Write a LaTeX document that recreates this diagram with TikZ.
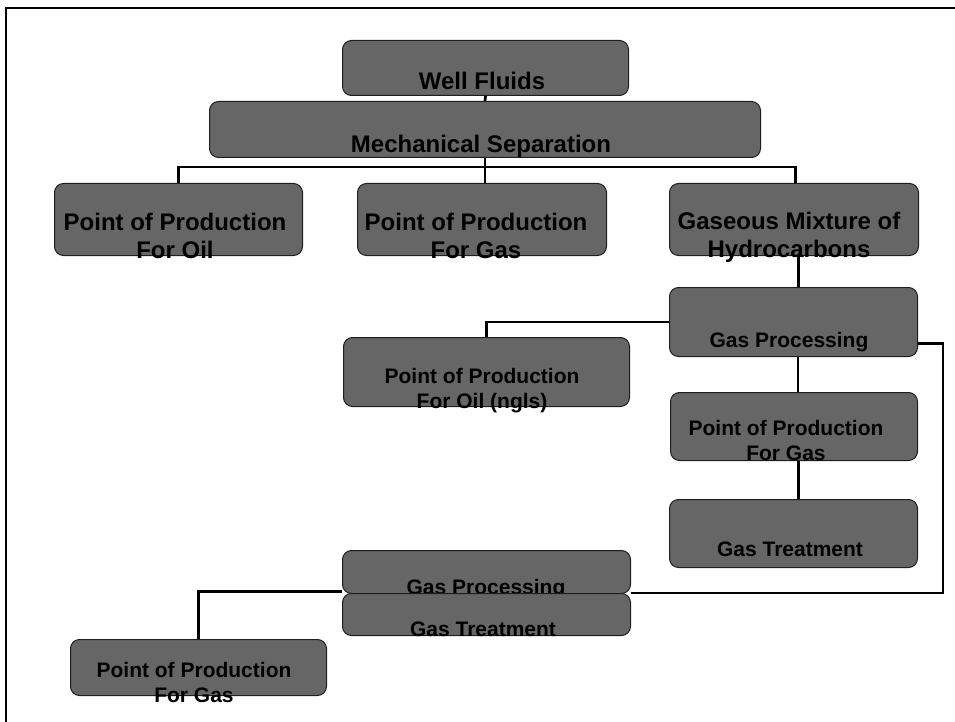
\documentclass[tikz,border=0pt]{standalone}
\usepackage{fontspec}
\setmainfont{Liberation Sans}
\usetikzlibrary{calc}
\definecolor{boxfill}{HTML}{666666}
\definecolor{boxline}{HTML}{1E1E1E}
\begin{document}
\begin{tikzpicture}[x=1pt,y=-1pt,
  box/.style={draw=boxline, line width=1pt, fill=boxfill, rounded corners=9pt, inner sep=0pt, anchor=north west},
  big/.style={font=\bfseries\fontsize{24}{28}\selectfont, align=center, inner sep=0pt, anchor=base},
  small/.style={font=\bfseries\fontsize{21}{25}\selectfont, align=center, inner sep=0pt, anchor=base},
  conn/.style={draw=black, line width=2.7pt}]
\useasboundingbox (0,0) rectangle (955,722);
% frame
\draw[line width=2.5pt] (955,8) -- (6,8) -- (6,722);

% boxes
\node[box, minimum width=286, minimum height=55] (wf) at (342,40) {};
\node[box, minimum width=551, minimum height=56] (ms) at (209,101) {};
\node[box, minimum width=248, minimum height=72] (poil) at (54,183) {};
\node[box, minimum width=249, minimum height=72] (pgas) at (357,183) {};
\node[box, minimum width=249, minimum height=72] (gmix) at (669,183) {};
\node[box, minimum width=248, minimum height=69] (gp1) at (669,287) {};
\node[box, minimum width=286, minimum height=69] (ngl) at (343,337) {};
\node[box, minimum width=247, minimum height=68] (pg2) at (670,392) {};
\node[box, minimum width=248, minimum height=68] (gt1) at (669,499) {};
\node[box, minimum width=288, minimum height=43] (gp2) at (342,550) {};
\node[small] (gp2t) at (486,594) {Gas Processing};
\node[box, minimum width=288, minimum height=42] (gt2) at (342,593) {};
\node[box, minimum width=256, minimum height=56] (pg3) at (70,639) {};

% connectors
\draw[conn] (wf.south) -- (ms.north);
\draw[conn] (ms.south) -- (ms.south |- pgas.north);
\draw[conn] (ms.south) -- ++(0,9) -| (poil.north);
\draw[conn] (ms.south) -- ++(0,9) -| ([xshift=1.5pt]gmix.north);
\draw[conn] ([xshift=4.5pt]gmix.south) -- ([xshift=4.5pt]gmix.south |- gp1.north);
\draw[conn] (gp1.west) -| (ngl.north);
\draw[conn] ([xshift=4.5pt]gp1.south) -- ([xshift=4.5pt]gp1.south |- pg2.north);
\draw[conn] ([xshift=4.5pt]pg2.south) -- ([xshift=4.5pt]pg2.south |- gt1.north);
\draw[conn] ([yshift=-21.5pt]gp1.east) -- ++(25,0) |- ([yshift=1pt]gp2.south east);
\draw[conn] ([yshift=-19.5pt]gp2.west) -| (pg3.north);

% texts (anchor = baseline of last line)
\node[big] (wft) at (482,90) {Well Fluids};
\node[big] (mst) at (481,153) {Mechanical Separation};
\node[big] (poilt) at (175,258) {Point of Production\\For Oil};
\node[big] (pgast) at (476,258) {Point of Production\\For Gas};
\node[big] (gmixt) at (789,257) {Gaseous Mixture of\\Hydrocarbons};
\node[small] (gp1t) at (789,347) {Gas Processing};
\node[small] (nglt) at (482,408) {Point of Production\\For Oil (ngls)};
\node[small] (pg2t) at (786,460) {Point of Production\\For Gas};
\node[small] (gt1t) at (790,556) {Gas Treatment};
\node[small] (gt2t) at (483,636) {Gas Treatment};
\node[small] (pg3t) at (194,702) {Point of Production\\For Gas};
\end{tikzpicture}
\end{document}
